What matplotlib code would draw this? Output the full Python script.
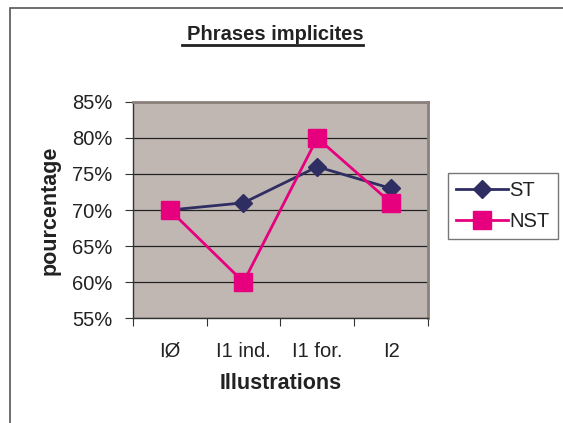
import matplotlib
matplotlib.use("Agg")
import matplotlib.pyplot as plt
from matplotlib.patches import Rectangle
from matplotlib.ticker import FixedLocator, FuncFormatter

plt.rcParams["font.family"] = ["Liberation Sans", "DejaVu Sans"]

categories = ["IØ", "I1 ind.", "I1 for.", "I2"]
st_values = [70, 71, 76, 73]
nst_values = [70, 60, 80, 71]
y_ticks = [55, 60, 65, 70, 75, 80, 85]

TEXT = "#222222"

fig = plt.figure(figsize=(5.63, 4.23), dpi=100)
ax = fig.add_axes([0.236, 0.248, 0.524, 0.511])
ax.set_facecolor("#C0B7B3")

x = [i + 0.5 for i in range(len(categories))]
ax.plot(x, st_values, color="#2E2E63", marker="D", markersize=9, linewidth=2, label="ST", zorder=3)
ax.plot(x, nst_values, color="#E6007E", marker="s", markersize=13, linewidth=2, label="NST", zorder=3)

ax.set_xlim(0, len(categories))
ax.set_ylim(55, 85)
ax.yaxis.set_major_locator(FixedLocator(y_ticks))
ax.yaxis.set_major_formatter(FuncFormatter(lambda v, p: f"{v:.0f}%"))
ax.grid(axis="y", color="#222222", linewidth=0.9)
ax.set_axisbelow(True)

ax.set_xticks(range(len(categories) + 1))
ax.set_xticklabels([])
ax.set_xticks(x, minor=True)
ax.set_xticklabels(categories, minor=True)
ax.tick_params(axis="x", which="minor", length=0, pad=17, labelsize=14.5, labelcolor=TEXT)
ax.tick_params(axis="x", which="major", length=6, color="#333333")
ax.tick_params(axis="y", length=6, pad=9, color="#333333", labelsize=14.5, labelcolor=TEXT)

for side in ["top", "right"]:
    ax.spines[side].set_color("#8A807C")
    ax.spines[side].set_linewidth(2)
for side in ["left", "bottom"]:
    ax.spines[side].set_color("#333333")
    ax.spines[side].set_linewidth(1)

ax.set_ylabel("pourcentage", fontsize=15.5, fontweight="bold", color=TEXT, labelpad=8)
ax.set_xlabel("Illustrations", fontsize=15.5, fontweight="bold", color=TEXT, labelpad=9)

fig.text(275 / 563, 1 - 35 / 423, "Phrases implicites", ha="center", va="center",
         fontsize=14.5, fontweight="bold", color=TEXT)
fig.add_artist(plt.Line2D([182 / 563, 363 / 563], [1 - 45 / 423, 1 - 45 / 423], color=TEXT,
                          linewidth=2, transform=fig.transFigure))

leg = fig.legend(loc="upper left", bbox_to_anchor=(448 / 563, 1 - 173 / 423), fontsize=14.5,
                 frameon=True, fancybox=False, edgecolor="#555555",
                 handlelength=2.6, borderpad=0.4, labelspacing=0.6, handletextpad=0.05,
                 borderaxespad=0)
leg.get_frame().set_linewidth(1)
for t in leg.get_texts():
    t.set_color(TEXT)

fig.add_artist(Rectangle((10 / 563, -0.01), 1.0, 1 - 8 / 423 + 0.01, transform=fig.transFigure,
                         fill=False, edgecolor="#555555", linewidth=1.2))

fig.savefig("out.png", dpi=100)
